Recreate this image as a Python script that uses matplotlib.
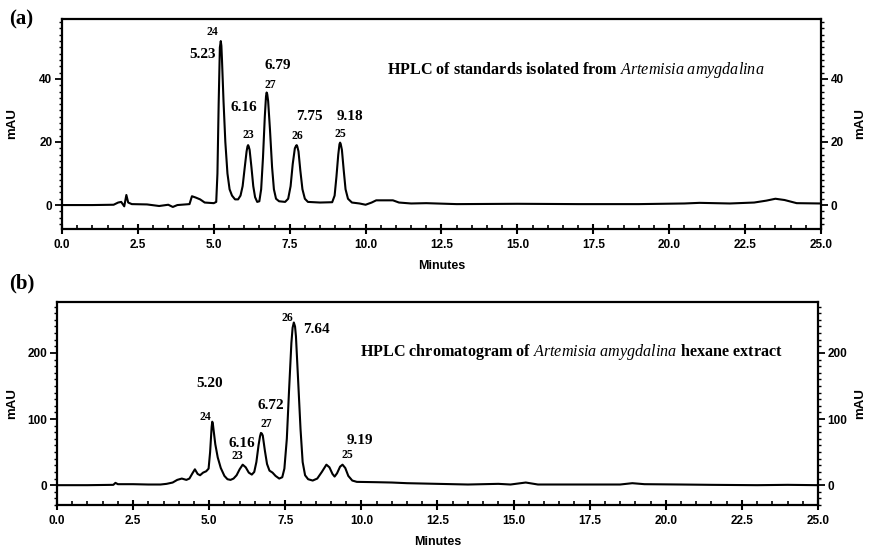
import matplotlib
matplotlib.use("Agg")
import matplotlib.pyplot as plt
from matplotlib.ticker import MultipleLocator, FormatStrFormatter

# --- panel (a): standards ---
time_a = [0.0, 1.0, 1.7, 1.85, 1.95, 2.05, 2.12, 2.18, 2.3, 2.8, 3.2, 3.5, 3.65, 3.8,
          4.2, 4.28, 4.4, 4.55, 4.7, 5.0, 5.08, 5.12, 5.16, 5.2, 5.23, 5.25, 5.27, 5.32,
          5.38, 5.45, 5.52, 5.6, 5.7, 5.8, 5.88, 5.95, 6.02, 6.08, 6.11, 6.13, 6.15, 6.18,
          6.24, 6.3, 6.36, 6.43, 6.5, 6.56, 6.62, 6.68, 6.72, 6.74, 6.76, 6.79, 6.85,
          6.92, 6.98, 7.05, 7.15, 7.35, 7.45, 7.53, 7.6, 7.67, 7.71, 7.73, 7.75, 7.79,
          7.85, 7.92, 8.0, 8.1, 8.5, 8.9, 8.98, 9.04, 9.1, 9.14, 9.16, 9.18, 9.22, 9.28,
          9.34, 9.42, 9.55, 9.8, 10.0, 10.2, 10.35, 10.9, 11.1, 11.5, 12.0, 13.0, 15.0,
          17.0, 19.0, 20.5, 21.0, 22.0, 22.8, 23.2, 23.5, 23.8, 24.2, 25.0]
mau_a = [0.0, 0.0, 0.1, 0.8, 1.0, -0.4, 3.2, 0.8, 0.3, 0.2, -0.3, 0.1, -0.6, 0.0,
         0.3, 2.8, 2.4, 1.8, 0.8, 0.6, 1.0, 10, 32, 50, 52, 50.5, 46, 33,
         20, 10, 5, 3, 1.8, 1.8, 3, 6, 12, 17, 18.6, 19, 18.6, 17.5,
         12, 6, 2.5, 1.0, 1.2, 5, 15, 28, 34.5, 35.7, 35.2, 33, 24,
         12, 5, 2, 1.2, 1.0, 2, 6, 13, 18, 18.8, 19, 18.6, 17,
         11, 5, 2, 1.0, 0.8, 0.9, 3, 9, 16, 19.3, 19.8, 19.4, 17.5, 11,
         5, 2, 0.8, 0.5, 0.1, 0.8, 1.5, 1.5, 0.8, 0.5, 0.6, 0.3, 0.4,
         0.3, 0.3, 0.5, 0.7, 0.5, 0.8, 1.4, 2.0, 1.6, 0.6, 0.5]
# (text, x, y, size)
labels_a = [("24", 4.94, 54.9, 8.5), ("5.23", 4.64, 47.6, 11),
            ("6.16", 6.0, 31, 11), ("23", 6.15, 22.2, 8.5),
            ("6.79", 7.11, 44.2, 11), ("27", 6.85, 38.1, 8.5),
            ("7.75", 8.14, 28, 11), ("26", 7.74, 21.9, 8.5),
            ("9.18", 9.49, 28, 11), ("25", 9.16, 22.4, 8.5)]

# --- panel (b): hexane extract ---
time_b = [0.0, 1.0, 1.85, 1.92, 2.0, 2.5, 3.0, 3.4, 3.6, 3.8, 3.95, 4.1, 4.25, 4.35,
          4.45, 4.53, 4.62, 4.7, 4.8, 4.9, 4.98, 5.03, 5.08, 5.1, 5.12, 5.14, 5.2, 5.28,
          5.38, 5.5, 5.6, 5.7, 5.8, 5.9, 6.0, 6.1, 6.2, 6.3, 6.4, 6.48, 6.55, 6.62, 6.67,
          6.7, 6.73, 6.76, 6.83, 6.9, 6.98, 7.08, 7.18, 7.3, 7.4, 7.47, 7.55, 7.62, 7.7,
          7.74, 7.78, 7.82, 7.85, 7.92, 8.0, 8.07, 8.15, 8.25, 8.4, 8.55, 8.7, 8.85, 8.95,
          9.05, 9.12, 9.2, 9.3, 9.38, 9.47, 9.57, 9.7, 9.85, 10.5, 11.0, 11.5, 12.5, 13.5,
          14.5, 14.9, 15.4, 15.8, 17.0, 18.5, 18.9, 19.3, 20.5, 21.5, 23.0, 24.0, 25.0]
mau_b = [0, 0, 0.5, 3.5, 1.5, 1.5, 1.0, 1.0, 2, 4, 8, 10, 8, 10,
         18, 24, 17, 15, 19, 21, 25, 50, 88, 96, 93, 85, 62, 42,
         26, 14, 9, 8, 10, 15, 24, 31, 27, 19, 16, 20, 35, 60, 74,
         79, 78, 75, 52, 32, 22, 19, 14, 10, 12, 25, 70, 140, 215,
         238, 246, 240, 225, 160, 85, 35, 15, 9, 7, 10, 20, 31, 27,
         17, 13, 18, 28, 31, 26, 14, 7, 5, 4.5, 4, 3, 2, 1,
         2, 1, 4, 1, 1, 1, 3, 1.5, 1, 0.5, 0, 0.5, 0]
labels_b = [("5.20", 5.03, 154, 11), ("24", 4.86, 103.5, 8.5),
            ("6.16", 6.08, 63, 11), ("23", 5.91, 44, 8.5),
            ("6.72", 7.03, 121, 11), ("27", 6.87, 93, 8.5),
            ("26", 7.57, 253, 8.5), ("7.64", 8.51, 235, 11),
            ("9.19", 9.95, 68, 11), ("25", 9.54, 45, 8.5)]

serif = "Liberation Serif"
sans = "Liberation Sans"

plt.rcParams["mathtext.fontset"] = "custom"
plt.rcParams["mathtext.it"] = "Liberation Serif:italic"
plt.rcParams["mathtext.rm"] = "Liberation Serif:bold"

fig = plt.figure(figsize=(8.77, 5.5), dpi=100)
ax_a = fig.add_axes([0.0707, 0.5836, 0.8654, 0.3818])
ax_b = fig.add_axes([0.065, 0.0818, 0.8677, 0.3691])


def style_axis(ax, ylim, ymajor, yminor, left_x, right_x):
    ax.set_xlim(0, 25)
    ax.set_ylim(*ylim)
    ax.xaxis.set_major_locator(MultipleLocator(2.5))
    ax.xaxis.set_minor_locator(MultipleLocator(0.5))
    ax.xaxis.set_major_formatter(FormatStrFormatter("%.1f"))
    ax.yaxis.set_major_locator(MultipleLocator(ymajor))
    ax.yaxis.set_minor_locator(MultipleLocator(yminor))
    for s in ax.spines.values():
        s.set_linewidth(1.6)
    ax.tick_params(axis="x", which="major", direction="inout", length=7, width=1.5,
                   labelsize=8.5, pad=4)
    ax.tick_params(axis="x", which="minor", direction="in", length=3, width=1.2)
    ax.tick_params(axis="y", which="major", direction="out", length=5, width=1.3,
                   left=True, right=True, labelleft=True, labelright=True,
                   labelsize=8.5, pad=2)
    ax.tick_params(axis="y", which="minor", direction="out", length=2.5, width=1.0,
                   left=True, right=True)
    for lab in ax.get_xticklabels() + ax.get_yticklabels():
        lab.set_fontfamily(sans)
        lab.set_fontweight("bold")
    ax.set_ylabel("mAU", fontfamily=sans, fontweight="bold", fontsize=9.5)
    ax.yaxis.set_label_coords(left_x, 0.5)
    ax.text(right_x, 0.5, "mAU", transform=ax.transAxes, rotation=90, ha="center",
            va="center", fontfamily=sans, fontweight="bold", fontsize=9.5)
    ax.set_xlabel("Minutes", fontfamily=sans, fontweight="bold", fontsize=9, labelpad=6)


style_axis(ax_a, (-7.6, 59), 20, 2, -0.058, 1.051)
style_axis(ax_b, (-30, 277), 100, 10, -0.051, 1.055)

ax_a.plot(time_a, mau_a, color="black", lw=1.5)
ax_b.plot(time_b, mau_b, color="black", lw=1.5)

for ax, labels in ((ax_a, labels_a), (ax_b, labels_b)):
    for txt, x, y, size in labels:
        ax.text(x, y, txt, ha="center", va="center", fontfamily=serif,
                fontweight="bold", fontsize=size)

ax_a.text(10.7, 42.9,
          r"HPLC of standards isolated from $\it{Artemisia\ amygdalina}$",
          ha="left", va="center", fontfamily=serif, fontweight="bold", fontsize=11.6)
ax_b.text(9.95, 201.5,
          r"HPLC chromatogram of $\it{Artemisia\ amygdalina}$ hexane extract",
          ha="left", va="center", fontfamily=serif, fontweight="bold", fontsize=11.6)

fig.text(0.01, 0.965, "(a)", fontfamily=serif, fontweight="bold", fontsize=15,
         va="center", ha="left")
fig.text(0.01, 0.485, "(b)", fontfamily=serif, fontweight="bold", fontsize=15,
         va="center", ha="left")

fig.savefig("out.png", dpi=100)
